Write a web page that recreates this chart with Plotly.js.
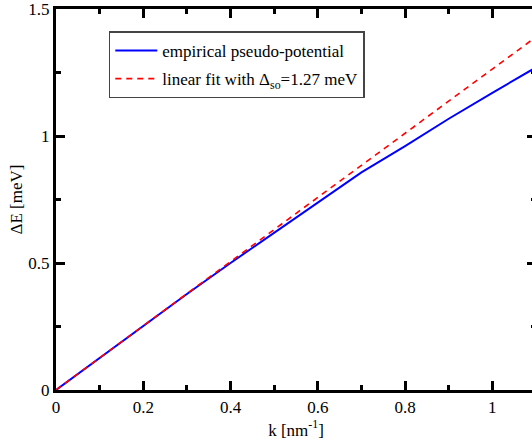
<!DOCTYPE html>
<html>
<head>
<meta charset="utf-8">
<script src="https://cdn.plot.ly/plotly-3.0.1.min.js"></script>
<style>
html,body{margin:0;padding:0;overflow:hidden;width:532px;height:440px;background:#fff;}
#chart{width:560px;height:440px;}
</style>
</head>
<body>
<div id="chart"></div>
<script>
const kEmp = [0, 0.1, 0.2, 0.3, 0.4, 0.5, 0.6, 0.7, 0.8, 0.9, 1.0, 1.1];
const eEmp = [0, 0.127, 0.253, 0.378, 0.5, 0.62, 0.74, 0.857, 0.96, 1.068, 1.17, 1.27];
const kFit = [0, 1.1];
const eFit = [0, 1.39];
const nameEmp = 'empirical pseudo-potential';
const nameFit = 'linear fit with Δ<sub>so</sub>=1.27 meV';
const xTicks = [0, 0.2, 0.4, 0.6, 0.8, 1];
const xTickText = ['0', '0.2', '0.4', '0.6', '0.8', '1'];
const yTicks = [0, 0.5, 1, 1.5];
const yTickText = ['0', '0.5', '1', '1.5'];

const font = {family: '"Liberation Serif", "Times New Roman", serif', size: 17, color: '#000'};

const traces = [
  {x: kEmp, y: eEmp, mode: 'lines', name: nameEmp, legendgroup: 'a',
   line: {color: '#0000ff', width: 2}},
  {x: kFit, y: eFit, mode: 'lines', name: nameFit, legendgroup: 'b',
   line: {color: '#ff0000', width: 1.6, dash: '6px,5px'}}
];

const axisCommon = {
  showline: true, linewidth: 3, linecolor: '#000', mirror: 'ticks',
  ticks: 'inside', ticklen: 9, tickwidth: 3, tickcolor: '#000',
  showgrid: false, zeroline: false, tickfont: font, ticklabeloverflow: 'allow'
};

const layout = {
  width: 560, height: 440,
  margin: {l: 56, r: 24, t: 9, b: 50},
  paper_bgcolor: '#fff', plot_bgcolor: '#fff',
  font: font,
  showlegend: true,
  legend: {x: 0.11, y: 0.941, xanchor: 'left', yanchor: 'top',
           bgcolor: '#fff', bordercolor: '#444', borderwidth: 1.5,
           font: font, tracegroupgap: 3, itemwidth: 42},
  xaxis: Object.assign({}, axisCommon, {
    range: [0, 1.1], tickmode: 'array', tickvals: xTicks, ticktext: xTickText,
    minor: {dtick: 0.1, ticks: 'inside', ticklen: 5, tickwidth: 3, tickcolor: '#000'},
    title: {text: 'k [nm<sup>-1</sup>]', font: font, standoff: 2}
  }),
  yaxis: Object.assign({}, axisCommon, {
    range: [0, 1.5], tickmode: 'array', tickvals: yTicks, ticktext: yTickText,
    minor: {dtick: 0.25, ticks: 'inside', ticklen: 5, tickwidth: 3, tickcolor: '#000'},
    title: {text: 'ΔE [meV]', font: font, standoff: 2}
  })
};

Plotly.newPlot('chart', traces, layout, {displayModeBar: false, staticPlot: true});
</script>
</body>
</html>
